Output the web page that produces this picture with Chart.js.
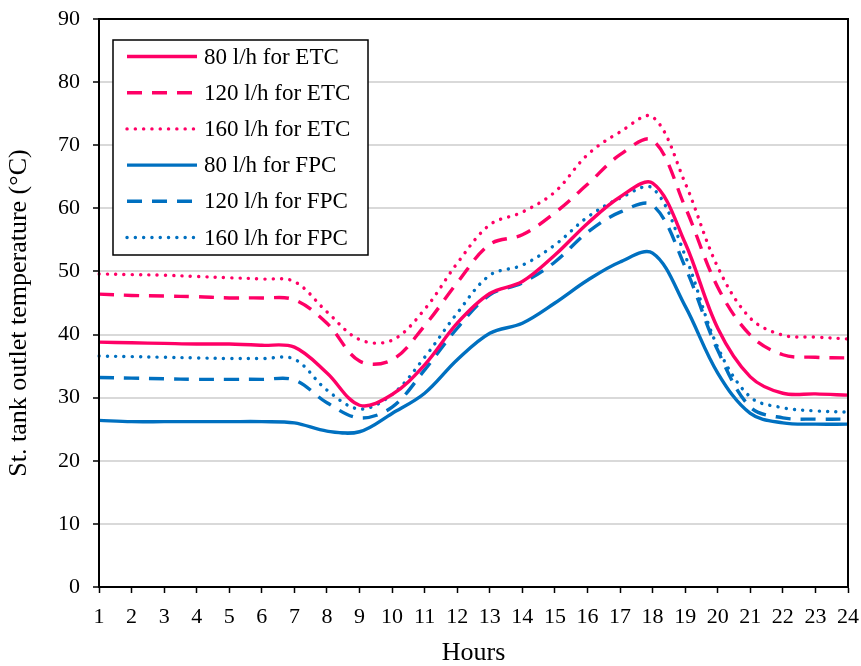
<!DOCTYPE html>
<html>
<head>
<meta charset="utf-8">
<script src="https://cdn.jsdelivr.net/npm/chart.js@4.4.0/dist/chart.umd.min.js"></script>
<style>
  html, body { margin: 0; padding: 0; background: #fff; }
  #wrap { width: 861px; height: 666px; }
</style>
</head>
<body>
<div id="wrap"><canvas id="chart" width="861" height="666"></canvas></div>
<script>
// hours of the day
const hours = ['1', '2', '3', '4', '5', '6', '7', '8', '9', '10', '11', '12',
  '13', '14', '15', '16', '17', '18', '19', '20', '21', '22', '23', '24'];

// storage tank outlet temperature (°C)
const etc80 = [38.8, 38.7, 38.6, 38.5, 38.5, 38.3, 38.0, 33.9, 28.8, 30.5, 35.2, 41.8,
  46.5, 48.4, 52.6, 57.6, 61.8, 64.0, 54.5, 41.0, 33.3, 30.7, 30.6, 30.4];
const etc120 = [46.4, 46.2, 46.1, 46.0, 45.8, 45.8, 45.5, 41.8, 35.8, 36.0, 41.4, 48.2,
  54.3, 55.8, 59.3, 63.8, 68.5, 70.8, 60.2, 47.5, 39.9, 36.8, 36.4, 36.3];
const etc160 = [49.6, 49.5, 49.4, 49.2, 49.0, 48.8, 48.4, 43.6, 39.2, 39.1, 44.0, 51.3,
  57.4, 59.4, 62.6, 68.5, 72.1, 74.5, 64.0, 50.7, 42.6, 39.9, 39.6, 39.3];
const fpc80 = [26.4, 26.2, 26.2, 26.2, 26.2, 26.2, 26.0, 24.7, 24.6, 27.5, 30.7, 36.0,
  40.2, 41.8, 45.0, 48.6, 51.5, 52.9, 44.5, 33.9, 27.5, 26.0, 25.8, 25.8];
const fpc120 = [33.2, 33.1, 33.0, 32.9, 32.9, 32.9, 32.8, 29.2, 26.8, 28.5, 34.4, 41.0,
  46.3, 48.2, 51.5, 56.2, 59.4, 60.5, 50.7, 37.5, 28.5, 26.8, 26.6, 26.6];
const fpc160 = [36.6, 36.5, 36.4, 36.3, 36.2, 36.2, 36.1, 31.2, 28.2, 30.5, 36.4, 43.4,
  49.4, 51.0, 54.2, 58.6, 61.6, 63.2, 52.5, 38.0, 30.1, 28.4, 27.9, 27.7];

const seriesLabels = ['80 l/h for ETC', '120 l/h for ETC', '160 l/h for ETC',
  '80 l/h for FPC', '120 l/h for FPC', '160 l/h for FPC'];
const yTitle = 'St. tank outlet temperature (°C)';

const PINK = '#ff0066';
const BLUE = '#0070c0';
const SOLID = [];
const DASH = [15, 10];
const DOT = [0.1, 8.2];
const FONT = "'Liberation Serif', 'Times New Roman', serif";

function line(label, data, color, dash) {
  return {
    label: label,
    data: data,
    borderColor: color,
    backgroundColor: color,
    borderWidth: 3.4,
    borderDash: dash,
    borderCapStyle: dash === DOT ? 'round' : 'butt',
    pointRadius: 0,
    tension: 0.35,
    fill: false
  };
}

// black frame around the plot area + vertical axis title (sits a bit low in the original)
const framePlugin = {
  id: 'frame',
  afterDatasetsDraw(chart) {
    const { ctx, chartArea: a } = chart;
    ctx.save();
    ctx.strokeStyle = '#000';
    ctx.lineWidth = 2;
    ctx.strokeRect(a.left, a.top, a.right - a.left, a.bottom - a.top);
    ctx.translate(19, (a.top + a.bottom) / 2 + 10);
    ctx.rotate(-Math.PI / 2);
    ctx.font = '26px ' + FONT;
    ctx.fillStyle = '#000';
    ctx.textAlign = 'center';
    ctx.textBaseline = 'middle';
    ctx.fillText(yTitle, 0, 0);
    ctx.restore();
  }
};

// boxed legend inside the plot, top left
const legendPlugin = {
  id: 'boxLegend',
  afterDraw(chart) {
    const { ctx, chartArea: a } = chart;
    const x = a.left + 14, y = a.top + 21, w = 255, h = 215;
    ctx.save();
    ctx.fillStyle = '#fff';
    ctx.fillRect(x, y, w, h);
    ctx.strokeStyle = '#000';
    ctx.lineWidth = 1.5;
    ctx.strokeRect(x, y, w, h);
    ctx.font = '23px ' + FONT;
    ctx.textBaseline = 'middle';
    chart.data.datasets.forEach((ds, i) => {
      const ly = y + 16.5 + i * 36.2;
      ctx.beginPath();
      ctx.strokeStyle = ds.borderColor;
      ctx.lineWidth = ds.borderWidth;
      ctx.setLineDash(ds.borderDash);
      ctx.lineCap = ds.borderCapStyle;
      ctx.moveTo(x + 14, ly);
      ctx.lineTo(x + 84, ly);
      ctx.stroke();
      ctx.setLineDash([]);
      ctx.fillStyle = '#000';
      ctx.fillText(ds.label, x + 91, ly + 1);
    });
    ctx.restore();
  }
};

new Chart(document.getElementById('chart'), {
  type: 'line',
  data: {
    labels: hours,
    datasets: [
      line(seriesLabels[0], etc80, PINK, SOLID),
      line(seriesLabels[1], etc120, PINK, DASH),
      line(seriesLabels[2], etc160, PINK, DOT),
      line(seriesLabels[3], fpc80, BLUE, SOLID),
      line(seriesLabels[4], fpc120, BLUE, DASH),
      line(seriesLabels[5], fpc160, BLUE, DOT)
    ]
  },
  options: {
    responsive: false,
    animation: false,
    layout: { padding: { left: 0, right: 13, top: 19, bottom: 0 } },
    plugins: {
      legend: { display: false },
      tooltip: { enabled: false }
    },
    scales: {
      x: {
        offset: false,
        grid: { drawOnChartArea: false, drawTicks: true, tickLength: 6, tickColor: '#000', tickWidth: 1.5 },
        border: { color: '#000', width: 2 },
        ticks: { color: '#000', font: { family: FONT, size: 22 }, padding: 11, maxRotation: 0, autoSkip: false },
        title: { display: true, text: 'Hours', color: '#000', font: { family: FONT, size: 26, lineHeight: 1 }, padding: { top: 0, bottom: 0 } },
        afterFit(scale) {
          scale.height = 79;
          scale.paddingLeft = 0;
          scale.paddingRight = 0;
        }
      },
      y: {
        min: 0,
        max: 90,
        ticks: { stepSize: 10, color: '#000', font: { family: FONT, size: 22 }, padding: 13 },
        grid: {
          color: (c) => (c.tick && (c.tick.value === 0 || c.tick.value === 90)) ? 'rgba(0,0,0,0)' : '#d9d9d9',
          lineWidth: 2,
          tickLength: 6,
          tickColor: '#000',
          tickWidth: 1.5
        },
        border: { color: '#000', width: 2 },
        title: { display: false },
        afterFit(scale) {
          scale.width = 99;
          scale.paddingTop = 0;
          scale.paddingBottom = 0;
        }
      }
    }
  },
  plugins: [framePlugin, legendPlugin]
});
</script>
</body>
</html>
